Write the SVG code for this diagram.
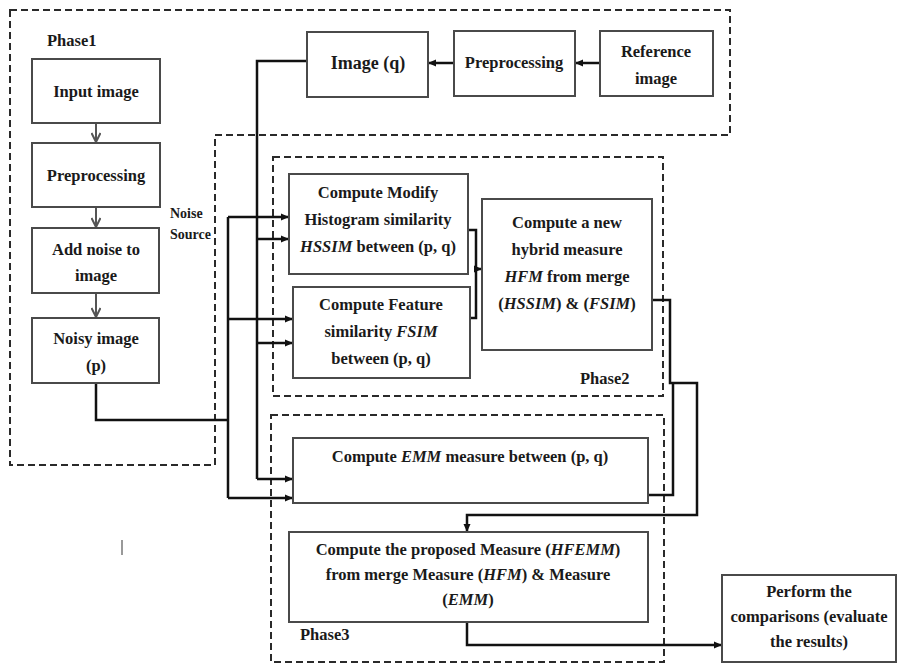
<svg xmlns="http://www.w3.org/2000/svg" width="901" height="665" viewBox="0 0 901 665">
<defs>
<style>
.box{fill:#fff;stroke:#4a4a4a;stroke-width:2}
.dash{fill:none;stroke:#2a2a2a;stroke-width:2;stroke-dasharray:7 4}
.t{font-family:"Liberation Serif","Times New Roman",serif;font-weight:bold;font-size:16.5px;fill:#1a1a1a;text-anchor:middle}
.tl{font-family:"Liberation Serif","Times New Roman",serif;font-weight:bold;font-size:16.5px;fill:#1a1a1a}
.i{font-style:italic}
.c{fill:none;stroke:#111;stroke-width:2.5}
.g{fill:none;stroke:#555;stroke-width:2}
</style>
<marker id="ah" markerWidth="8" markerHeight="8" refX="7" refY="4" orient="auto" markerUnits="userSpaceOnUse">
<path d="M0,0.5 L8,4 L0,7.5 Z" fill="#111"/>
</marker>
<marker id="gh" markerWidth="12" markerHeight="10" refX="10" refY="5" orient="auto" markerUnits="userSpaceOnUse">
<path d="M1,0.5 L10,5 L1,9.5" fill="none" stroke="#555" stroke-width="2"/>
</marker>
</defs>

<g id="phase-frames">
<polygon class="dash" points="10,10 730,10 730,135 215,135 215,465 10,465"/>
<rect class="dash" x="273" y="157" width="390" height="239"/>
<rect class="dash" x="271" y="415" width="393" height="247"/>
<text class="tl" x="47" y="46">Phase1</text>
<text class="tl" x="580" y="384">Phase2</text>
<text class="tl" x="300" y="640">Phase3</text>
<text class="tl" x="170" y="218" style="font-size:14px">Noise</text>
<text class="tl" x="170" y="239" style="font-size:14px">Source</text>
</g>

<g id="connectors">
<line class="g" x1="96" y1="123" x2="96" y2="142" marker-end="url(#gh)"/>
<line class="g" x1="96" y1="207" x2="96" y2="227" marker-end="url(#gh)"/>
<line class="g" x1="96" y1="293" x2="96" y2="317" marker-end="url(#gh)"/>
<line class="c" x1="600" y1="63" x2="576" y2="63" marker-end="url(#ah)"/>
<line class="c" x1="454" y1="63" x2="429" y2="63" marker-end="url(#ah)"/>
<polyline class="c" points="307,61 257,61 257,479"/>
<polyline class="c" points="96,383 96,420 228,420"/>
<line class="c" x1="228" y1="217" x2="228" y2="498"/>
<line class="c" x1="228" y1="217" x2="288" y2="217" marker-end="url(#ah)"/>
<line class="c" x1="257" y1="239" x2="288" y2="239" marker-end="url(#ah)"/>
<line class="c" x1="228" y1="319" x2="292" y2="319" marker-end="url(#ah)"/>
<line class="c" x1="257" y1="343" x2="292" y2="343" marker-end="url(#ah)"/>
<line class="c" x1="257" y1="479" x2="292" y2="479" marker-end="url(#ah)"/>
<line class="c" x1="228" y1="498" x2="292" y2="498" marker-end="url(#ah)"/>
<polyline class="c" points="468,230 476,230 476,318 470,318"/>
<line class="c" x1="476" y1="269" x2="481" y2="269" marker-end="url(#ah)"/>
<polyline class="c" points="652,300 670,300 670,383 697,383 697,515 467,515 467,531" marker-end="url(#ah)"/>
<polyline class="c" points="648,495 673,495 673,383"/>
<polyline class="c" points="467,622 467,645 721,645" marker-end="url(#ah)"/>
</g>

<g id="n-input">
<rect class="box" x="32" y="59" width="128" height="64"/>
<text class="t" x="96" y="97">Input image</text>
</g>
<g id="n-prep1">
<rect class="box" x="32" y="143" width="128" height="64"/>
<text class="t" x="96" y="181">Preprocessing</text>
</g>
<g id="n-noise">
<rect class="box" x="32" y="228" width="127" height="65"/>
<text class="t" x="96" y="255">Add noise to</text>
<text class="t" x="96" y="281">image</text>
</g>
<g id="n-noisy">
<rect class="box" x="32" y="318" width="127" height="65"/>
<text class="t" x="96" y="344">Noisy image</text>
<text class="t" x="96" y="371">(p)</text>
</g>
<g id="n-imageq">
<rect class="box" x="307" y="32" width="121" height="65"/>
<text class="t" x="368" y="69" style="font-size:18px">Image (q)</text>
</g>
<g id="n-prep2">
<rect class="box" x="454" y="31" width="121" height="65"/>
<text class="t" x="514" y="68">Preprocessing</text>
</g>
<g id="n-ref">
<rect class="box" x="600" y="31" width="113" height="65"/>
<text class="t" x="656" y="57">Reference</text>
<text class="t" x="656" y="84">image</text>
</g>
<g id="n-hssim">
<rect class="box" x="289" y="174" width="179" height="100"/>
<text class="t" x="378" y="198">Compute Modify</text>
<text class="t" x="378" y="225">Histogram similarity</text>
<text class="t" x="378" y="252"><tspan class="i">HSSIM</tspan> between (p, q)</text>
</g>
<g id="n-fsim">
<rect class="box" x="293" y="287" width="177" height="91"/>
<text class="t" x="381" y="310">Compute Feature</text>
<text class="t" x="381" y="337">similarity <tspan class="i">FSIM</tspan></text>
<text class="t" x="381" y="364">between (p, q)</text>
</g>
<g id="n-hfm">
<rect class="box" x="482" y="199" width="170" height="151"/>
<text class="t" x="567" y="228">Compute a new</text>
<text class="t" x="567" y="255">hybrid measure</text>
<text class="t" x="567" y="282"><tspan class="i">HFM</tspan> from merge</text>
<text class="t" x="567" y="309">(<tspan class="i">HSSIM</tspan>) &amp; (<tspan class="i">FSIM</tspan>)</text>
</g>
<g id="n-emm">
<rect class="box" x="293" y="438" width="355" height="65"/>
<text class="t" x="470" y="462">Compute <tspan class="i">EMM</tspan> measure between (p, q)</text>
</g>
<g id="n-hfemm">
<rect class="box" x="289" y="532" width="359" height="90"/>
<text class="t" x="468" y="555">Compute the proposed Measure (<tspan class="i">HFEMM</tspan>)</text>
<text class="t" x="468" y="580">from merge Measure (<tspan class="i">HFM</tspan>) &amp; Measure</text>
<text class="t" x="468" y="605">(<tspan class="i">EMM</tspan>)</text>
</g>
<g id="n-perform">
<rect class="box" x="722" y="575" width="174" height="87"/>
<text class="t" x="809" y="597">Perform the</text>
<text class="t" x="809" y="622">comparisons (evaluate</text>
<text class="t" x="809" y="647">the results)</text>
</g>
<line x1="122" y1="540" x2="122" y2="555" stroke="#777" stroke-width="1.5"/>
</svg>
